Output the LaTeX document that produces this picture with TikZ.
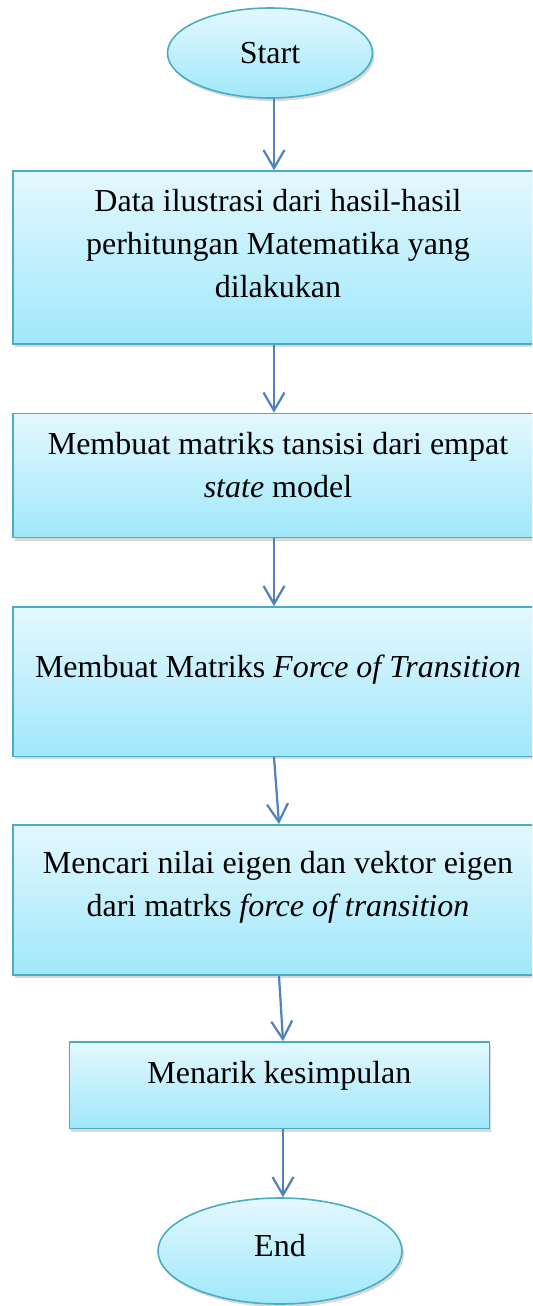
\documentclass[tikz,border=0pt]{standalone}
\usepackage{fontspec}
\setmainfont{Liberation Serif}
\usetikzlibrary{
  arrows.meta,
  positioning,
  shapes.geometric,
  shadows
}
\definecolor{boxtop}{RGB}{228,248,254}
\definecolor{boxbottom}{RGB}{160,232,251}
\definecolor{boxline}{RGB}{75,172,198}
\definecolor{flowblue}{RGB}{79,129,189}

\begin{document}
\begin{tikzpicture}[
  font=\fontsize{16}{21.5}\selectfont,
  stepbox/.style={draw=boxline, line width=0.8pt, top color=boxtop, bottom color=boxbottom,
    drop shadow={shadow xshift=1pt, shadow yshift=-1.5pt, opacity=0.3}, inner sep=0pt},
  terminal/.style={stepbox, ellipse},
  steptext/.style={align=center, inner sep=0pt},
  flow/.style={draw=flowblue, line width=1.1pt, -{Straight Barb[length=9pt,width=10.5pt]}}
]
  \path[use as bounding box, clip] (0,0) rectangle (266pt,-653pt);

  % Start / End
  \node[terminal, minimum width=102.5pt, minimum height=45pt] (start) at (135pt,-26.5pt) {Start};
  \node[terminal, minimum width=122pt, minimum height=53pt, text depth=6pt] (end) at (140pt,-625.5pt) {End};

  % Boxes
  \node[stepbox, minimum width=265pt, minimum height=86.5pt] (b1) at (139pt,-128.75pt) {};
  \node[stepbox, minimum width=265pt, minimum height=62pt] (b2) at (139pt,-237.75pt) {};
  \node[stepbox, minimum width=265pt, minimum height=74.7pt] (b3) at (139pt,-340.8pt) {};
  \node[stepbox, minimum width=265pt, minimum height=75pt] (b4) at (139pt,-449.9pt) {};
  \node[stepbox, minimum width=210pt, minimum height=43.3pt, text height=10.5pt, text depth=12pt]
    (b5) at (139.7pt,-542.65pt) {Menarik kesimpulan};

  % Box texts
  \node[steptext, below=9.4pt of b1.north] (t1) {Data ilustrasi dari hasil-hasil\\perhitungan Matematika yang\\dilakukan};
  \node[steptext, below=9.4pt of b2.north] (t2) {Membuat matriks tansisi dari empat\\\textit{state} model};
  \node[steptext, below=24.3pt of b3.north] (t3) {Membuat Matriks \textit{Force of Transition}};
  \node[steptext, below=13.2pt of b4.north] (t4) {Mencari nilai eigen dan vektor eigen\\dari matrks \textit{force of transition}};

  % Arrows
  \draw[flow] ([xshift=2pt]start.south) -- ([xshift=2pt]start.south |- b1.north);
  \draw[flow] ([xshift=-2pt]b1.south) -- ([xshift=-2pt]b1.south |- b2.north);
  \draw[flow] ([xshift=-2pt]b2.south) -- ([xshift=-2pt]b2.south |- b3.north);
  \draw[flow] ([xshift=-2pt]b3.south) -- ([xshift=0.5pt]b4.north);
  \draw[flow] ([xshift=0.5pt]b4.south) -- ([xshift=1.8pt]b5.north);
  \draw[flow] ([xshift=1.8pt]b5.south) -- ([xshift=1.8pt]b5.south |- end.north);
\end{tikzpicture}
\end{document}
